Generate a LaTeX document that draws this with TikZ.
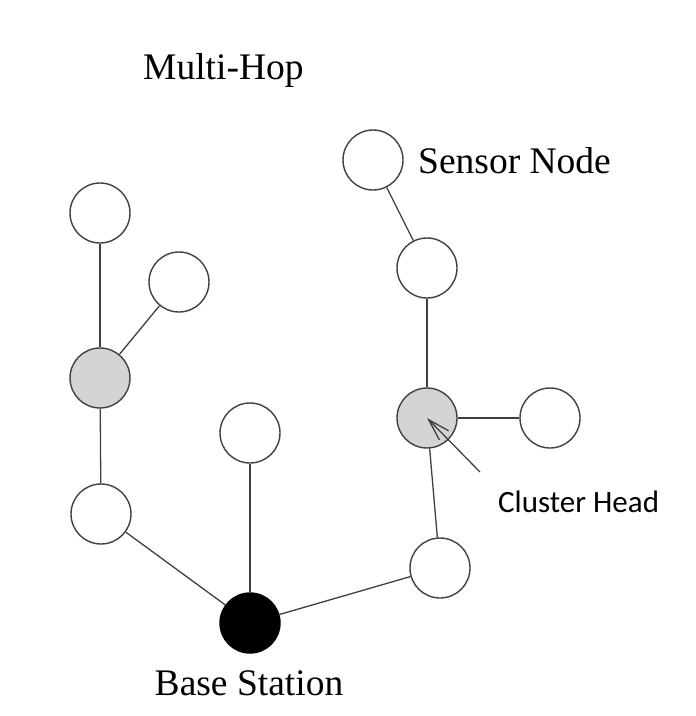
\documentclass[tikz,border=0pt]{standalone}
\usepackage{fontspec}
\setmainfont{Liberation Serif}
\newfontfamily\calibrifont{Carlito}
\usetikzlibrary{arrows.meta}

\definecolor{linegray}{RGB}{64,64,64}
\definecolor{headgray}{RGB}{212,212,214}

\tikzset{
	sensor/.style={circle,draw=linegray,line width=1.4pt,fill=white,minimum size=60pt,inner sep=0pt},
	head/.style={sensor,fill=headgray},
	base/.style={sensor,draw=black,fill=black},
	lbl/.style={inner sep=0pt,font=\fontsize{37.5}{42}\selectfont},
}

\begin{document}
\begin{tikzpicture}[x=1pt,y=-1pt]
		\useasboundingbox (0,0) rectangle (696,716);
		% left branch
		\node[sensor] (S1) at (100,213) {};
		\node[sensor] (S2) at (179,282) {};
		\node[head] (H1) at (100,378) {};
		\node[sensor] (S3) at (101,514) {};
		% middle
		\node[sensor] (S4) at (250,433) {};
		\node[base] (BS) at (250,623) {};
		% right branch
		\node[sensor] (S5) at (440,568) {};
		\node[head] (H2) at (427,418) {};
		\node[sensor] (S6) at (550,418) {};
		\node[sensor] (S7) at (427,268) {};
		\node[sensor] (S8) at (373,160) {};
		%
		\node[lbl,anchor=base west] (title) at (143,79) {Multi-Hop};
		\node[lbl,anchor=base west] (sn) at (418,173) {Sensor Node};
		\node[lbl,anchor=base] (bsl) at (249,695) {Base Station};
		\node[inner sep=0pt,anchor=base west,font=\calibrifont\fontsize{31}{36}\selectfont] (chl) at (498,512) {Cluster Head};
		\coordinate (chtail) at (480,472);
		%
		\path[draw=linegray,line width=1.3pt]
		% left branch
		(S1) edge (H1)
		(S2) edge (H1)
		(H1) edge (S3)
		(S3) edge (BS)
		% middle
		(S4) edge (BS)
		% right branch
		(BS) edge (S5)
		(S5) edge (H2)
		(H2) edge (S6)
		(H2) edge (S7)
		(S7) edge (S8);
		% pointer to cluster head
		\draw[-{Straight Barb[length=22pt,width=13pt]},draw=linegray,line width=1.3pt] (chtail) -- (H2.center);
	\end{tikzpicture}
\end{document}
